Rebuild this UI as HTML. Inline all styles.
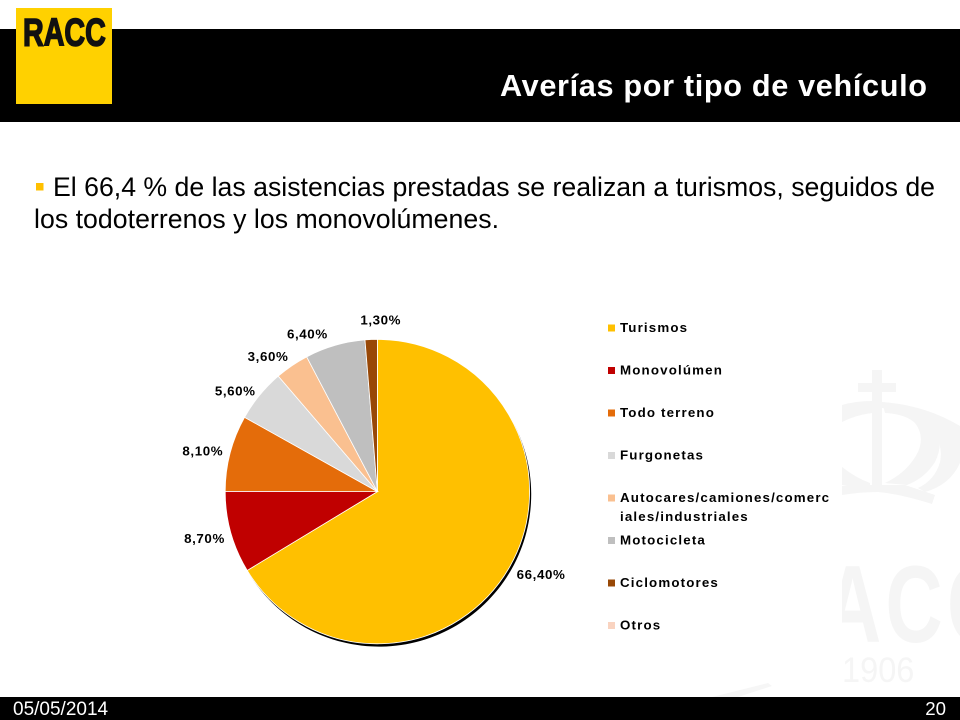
<!DOCTYPE html>
<html lang="es">
<head>
<meta charset="utf-8">
<title>Averías por tipo de vehículo</title>
<style>
html,body{margin:0;padding:0;background:#fff;width:960px;height:720px;overflow:hidden}
svg{display:block;font-family:"Liberation Sans",Arial,sans-serif}
.leg{font-size:13.33px;font-weight:bold;letter-spacing:1.15px;fill:#000}
.lab{font-size:13.33px;font-weight:bold;letter-spacing:.6px;fill:#000}
</style>
</head>
<body>
<svg id="slide" width="960" height="720" viewBox="0 0 960 720" xmlns="http://www.w3.org/2000/svg">
  <defs><clipPath id="wm-clip"><rect x="842" y="360" width="118" height="337"/></clipPath></defs>
  <rect width="960" height="720" fill="#fff"/>
  <path d="M712 697 L768 683 L772 686 L738 697Z" fill="#f6f6f6"/>
  <g fill="#f5f5f5" clip-path="url(#wm-clip)">
    <rect x="872" y="370" width="10" height="115"/>
    <rect x="858" y="383" width="38" height="9"/>
    <path d="M842 405 Q856 401 872 401 L872 413 Q856 415 842 422Z"/>
    <path d="M882 402 Q915 405 934 425 Q945 442 935 462 Q925 478 907 485 L885 483 Q908 472 918 452 Q925 436 915 423 Q905 414 885 413Z"/>
    <path d="M882 402 Q925 405 960 426 L960 463 Q950 485 925 492 L918 488 Q935 480 940 462 Q945 440 922 418 Q905 408 882 408Z"/>
    <path d="M842 467 Q856 478 870 483 L870 490 L842 485Z"/>
    <path d="M842 486 L868 485 L905 485 L935 495 L932 504 Q900 494 878 492 Q860 492 842 495Z"/>
    <text x="0" y="0" font-size="110" font-weight="bold" letter-spacing="6" transform="translate(824 642) scale(.72 1)">ACC</text>
    <text x="0" y="0" font-size="35" transform="translate(842 682) scale(.93 1)">1906</text>
  </g>

  <rect x="0" y="29" width="960" height="93" fill="#000"/>
  <rect x="16" y="8" width="96" height="96" fill="#ffd100"/>
  <text transform="translate(23 45.5) scale(.735 1)" font-size="39" font-weight="bold" fill="#111" stroke="#111" stroke-width="1.6">RACC</text>
  <text x="500" y="96" font-size="30.67" font-weight="bold" fill="#fff" textLength="427" lengthAdjust="spacing">Averías por tipo de vehículo</text>

  <rect x="36" y="183" width="7.5" height="7.5" fill="#ffc000"/>
  <text x="53" y="196" font-size="26.67" fill="#000" textLength="882" lengthAdjust="spacing">El 66,4 % de las asistencias prestadas se realizan a turismos, seguidos de</text>
  <text x="34" y="228" font-size="26.67" fill="#000" textLength="465" lengthAdjust="spacing">los todoterrenos y los monovolúmenes.</text>

  <g id="pie"></g>
  <g id="labels"></g>
  <g id="legend"></g>

  <rect x="0" y="697" width="960" height="23" fill="#000"/>
  <text x="13" y="715" font-size="19" fill="#fff">05/05/2014</text>
  <text x="946" y="715" font-size="18.67" fill="#fff" text-anchor="end">20</text>
</svg>
<script>
const categories = ["Turismos", "Monovolúmen", "Todo terreno", "Furgonetas", "Autocares/camiones/comerciales/industriales", "Motocicleta", "Ciclomotores", "Otros"];
const values = [66.4, 8.7, 8.1, 5.6, 3.6, 6.4, 1.3, 0];
const valueLabels = ["66,40%", "8,70%", "8,10%", "5,60%", "3,60%", "6,40%", "1,30%", ""];
const sliceColors = ["#ffc000", "#c00000", "#e46c0a", "#d9d9d9", "#fac090", "#bfbfbf", "#984807", "#f9d3c0"];
const labelNudgeX = [8, -2, -3, -5, -10, -21, 10, 0];
const labelNudgeY = [-5, -1, 4, 12, 12, 13, 6, 0];

const NS = "http://www.w3.org/2000/svg";
const cx = 377.4, cy = 491.6, radius = 152.2, labelRadius = 178;
const total = values.reduce(function (a, b) { return a + b; }, 0);
function angleOf(v) { return v / total * Math.PI * 2; }
function pointAt(a, r) { return [cx + Math.sin(a) * r, cy - Math.cos(a) * r]; }
function slicePath(a0, a1) {
  const p0 = pointAt(a0, radius), p1 = pointAt(a1, radius);
  const large = a1 - a0 > Math.PI ? 1 : 0;
  return "M" + cx + " " + cy + "L" + p0[0] + " " + p0[1] + "A" + radius + " " + radius + " 0 " + large + " 1 " + p1[0] + " " + p1[1] + "Z";
}
function make(tag, parent) {
  const el = document.createElementNS(NS, tag);
  parent.appendChild(el);
  return el;
}
const pie = document.getElementById("pie");
const labelsGroup = document.getElementById("labels");
const legend = document.getElementById("legend");

const shadow = make("path", pie);
shadow.setAttribute("d", slicePath(0, angleOf(values[0])));
shadow.setAttribute("fill", "#000");
shadow.setAttribute("transform", "translate(1.6 2.8)");



let running = 0;
values.forEach(function (v, i) {
  const a0 = angleOf(running), a1 = angleOf(running + v);
  running += v;
  if (v > 0) {
    const s = make("path", pie);
    s.setAttribute("d", slicePath(a0, a1));
    s.setAttribute("fill", sliceColors[i]);
    s.setAttribute("stroke", "#fff");
    s.setAttribute("stroke-width", "0.8");
    
    

    const p = pointAt((a0 + a1) / 2, labelRadius);
    const t = make("text", labelsGroup);
    t.setAttribute("class", "lab");
    t.setAttribute("x", p[0] + labelNudgeX[i] + 0.6);
    t.setAttribute("y", p[1] + labelNudgeY[i] + 4.8);
    t.setAttribute("text-anchor", "middle");
    t.textContent = valueLabels[i];
    
    
  }
});

categories.forEach(function (name, i) {
  const y = 328 + i * 42.5;
  const box = make("rect", legend);
  box.setAttribute("x", 608);
  box.setAttribute("y", y - 3.5);
  box.setAttribute("width", 7);
  box.setAttribute("height", 7);
  box.setAttribute("fill", sliceColors[i]);
  
  

  const first = make("text", legend);
  first.setAttribute("class", "leg");
  first.setAttribute("x", 620);
  first.setAttribute("y", y + 4);
  first.textContent = name.slice(0, 25);
  
  

  if (name.length > 25) {
    const second = make("text", legend);
    second.setAttribute("class", "leg");
    second.setAttribute("x", 620);
    second.setAttribute("y", y + 23);
    second.textContent = name.slice(25);
    
    
  }
});
</script>
</body>
</html>
